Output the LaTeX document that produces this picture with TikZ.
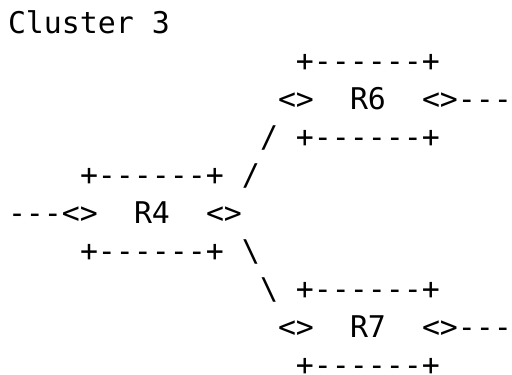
\documentclass[tikz,border=0pt]{standalone}
\usepackage{fontspec}
\setmonofont{DejaVu Sans Mono}
\begin{document}
\begin{tikzpicture}[x=13.5pt,y=-28.5pt,
  txt/.style={anchor=base west,inner sep=0pt,outer sep=0pt,font=\ttfamily\fontsize{22.42pt}{28.5pt}\selectfont}]
\useasboundingbox (0,0) rectangle (384pt,-281.25pt);
\begin{scope}[shift={(6pt,-24.75pt)}]
\node[txt] (title) at (0,0) {Cluster 3};
% R6
\node[txt] (r6top) at (16,1) {+------+};
\node[txt] (r6l)   at (15,2) {<>};
\node[txt] (r6)    at (19,2) {R6};
\node[txt] (r6r)   at (23,2) {<>---};
\node[txt] (s1)    at (14,3) {/};
\node[txt] (r6bot) at (16,3) {+------+};
% R4
\node[txt] (r4top) at (4,4) {+------+};
\node[txt] (s2)    at (13,4) {/};
\node[txt] (r4l)   at (0,5) {---<>};
\node[txt] (r4)    at (7,5) {R4};
\node[txt] (r4r)   at (11,5) {<>};
\node[txt] (r4bot) at (4,6) {+------+};
\node[txt] (b1)    at (13,6) {\textbackslash};
% R7
\node[txt] (b2)    at (14,7) {\textbackslash};
\node[txt] (r7top) at (16,7) {+------+};
\node[txt] (r7l)   at (15,8) {<>};
\node[txt] (r7)    at (19,8) {R7};
\node[txt] (r7r)   at (23,8) {<>---};
\node[txt] (r7bot) at (16,9) {+------+};
\end{scope}
\end{tikzpicture}
\end{document}
